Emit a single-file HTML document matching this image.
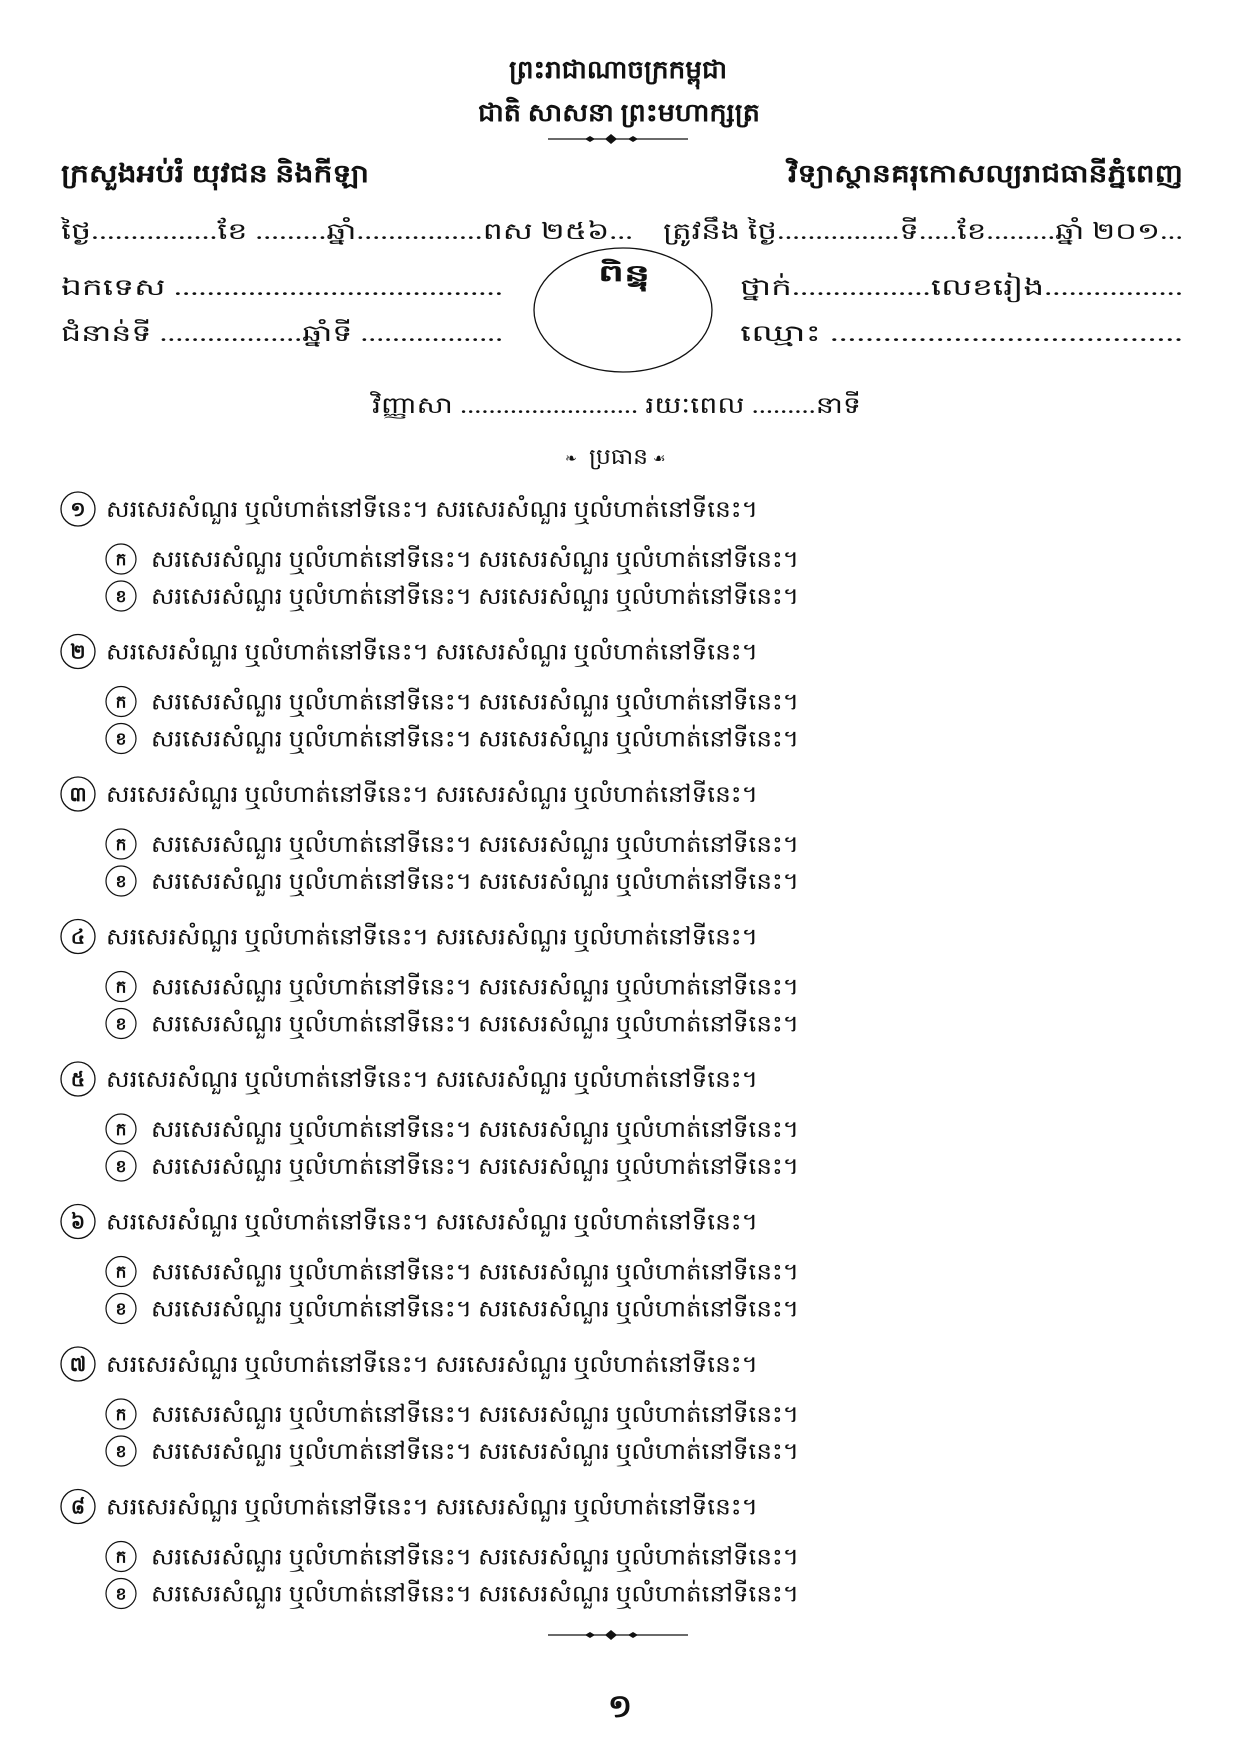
<!DOCTYPE html>
<html><head><meta charset="utf-8"><style>
html,body{margin:0;padding:0;background:#fff}
svg{display:block}
text{font-family:"Liberation Serif","DejaVu Sans",serif;fill:#111}
.b{font-weight:bold}
</style></head><body>
<svg id="pg" width="1241" height="1754" viewBox="0 0 1241 1754" xmlns="http://www.w3.org/2000/svg">
<text class="b" x="509" y="78" font-size="25" textLength="218" lengthAdjust="spacingAndGlyphs">ព្រះរាជាណាចក្រកម្ពុជា</text>
<text class="b" x="478" y="121" font-size="25" textLength="282" lengthAdjust="spacingAndGlyphs">ជាតិ សាសនា ព្រះមហាក្សត្រ</text>
<g>
<line x1="548" y1="139" x2="688" y2="139" stroke="#111" stroke-width="1.2"/>
<path d="M585 139 l5 -3 l5 3 l-5 3z M605 139 l6 -5 l6 5 l-6 5z M628 139 l5 -3 l5 3 l-5 3z" fill="#111"/>
</g>
<text class="b" x="61" y="182" font-size="25" textLength="308" lengthAdjust="spacingAndGlyphs">ក្រសួងអប់រំ យុវជន និងកីឡា</text>
<text class="b" x="788" y="182" font-size="25" textLength="395" lengthAdjust="spacingAndGlyphs">វិទ្យាស្ថានគរុកោសល្យរាជធានីភ្នំពេញ</text>
<text x="61" y="239" font-size="23" textLength="572" lengthAdjust="spacingAndGlyphs">ថ្ងៃ................ខែ .........ឆ្នាំ................ពស ២៥៦...</text>
<text x="663" y="239" font-size="23" textLength="520" lengthAdjust="spacingAndGlyphs">ត្រូវនឹង ថ្ងៃ................ទី.....ខែ.........ឆ្នាំ ២០១...</text>
<text x="61" y="295" font-size="23" textLength="442" lengthAdjust="spacingAndGlyphs">ឯកទេស ........................................</text>
<text x="61" y="341" font-size="23" textLength="442" lengthAdjust="spacingAndGlyphs">ជំនាន់ទី ..................ឆ្នាំទី ..................</text>
<ellipse cx="623" cy="310" rx="89" ry="62" fill="none" stroke="#111" stroke-width="1.3"/>
<text class="b" x="598" y="281" font-size="23" textLength="52" lengthAdjust="spacingAndGlyphs">ពិន្ទុ</text>
<text x="740" y="295" font-size="23" textLength="443" lengthAdjust="spacingAndGlyphs">ថ្នាក់.................លេខរៀង.................</text>
<text x="740" y="341" font-size="23" textLength="443" lengthAdjust="spacingAndGlyphs">ឈ្មោះ ........................................</text>
<text x="372" y="413" font-size="23" textLength="489" lengthAdjust="spacingAndGlyphs">វិញ្ញាសា ......................... រយៈពេល .........នាទី</text>
<text x="565" y="463" font-size="14" fill="#555">❧</text>
<text x="589" y="464" font-size="22" textLength="59" lengthAdjust="spacingAndGlyphs">ប្រធាន</text>
<text x="653" y="463" font-size="14" fill="#555">☙</text>
<g id="qs"></g>
<g>
<line x1="548" y1="1635" x2="688" y2="1635" stroke="#111" stroke-width="1.2"/>
<path d="M585 1635 l5 -3 l5 3 l-5 3z M605 1635 l6 -5 l6 5 l-6 5z M628 1635 l5 -3 l5 3 l-5 3z" fill="#111"/>
</g>
<text class="b" x="620" y="1717" font-size="32" text-anchor="middle">១</text>
</svg>
<script>
const qNums=["១","២","៣","៤","៥","៦","៧","៨"];
const subLabels=["ក","ខ"];
const qText="សរសេរសំណួរ ឬលំហាត់នៅទីនេះ។ សរសេរសំណួរ ឬលំហាត់នៅទីនេះ។";
const NS="http://www.w3.org/2000/svg";
const g=document.getElementById('qs');
function mk(tag,attrs){const e=document.createElementNS(NS,tag);for(const k in attrs)e.setAttribute(k,attrs[k]);return e;}
qNums.forEach((n,i)=>{
  const y=509+i*142.5;
  const c=mk('circle',{cx:78,cy:y,r:17,fill:'none',stroke:'#111','stroke-width':1.3});
  
  
  g.appendChild(c);
  const nt=mk('text',{x:78,y:y+7,'font-size':20,'text-anchor':'middle','class':'b'});
  nt.textContent=n;
  
  
  g.appendChild(nt);
  const t=mk('text',{x:106,y:y+8,'font-size':23,textLength:652,lengthAdjust:'spacingAndGlyphs'});
  t.textContent=qText;
  
  
  g.appendChild(t);
  subLabels.forEach((s,j)=>{
    const sy=y+50+j*37;
    const sc=mk('circle',{cx:121,cy:sy,r:15,fill:'none',stroke:'#111','stroke-width':1.2});
    
    
    g.appendChild(sc);
    const st=mk('text',{x:121,y:sy+6,'font-size':17,'text-anchor':'middle','class':'b'});
    st.textContent=s;
    
    
    g.appendChild(st);
    const tt=mk('text',{x:151,y:sy+8,'font-size':23,textLength:648,lengthAdjust:'spacingAndGlyphs'});
    tt.textContent=qText;
    
    
    g.appendChild(tt);
  });
});
</script>
</body></html>
